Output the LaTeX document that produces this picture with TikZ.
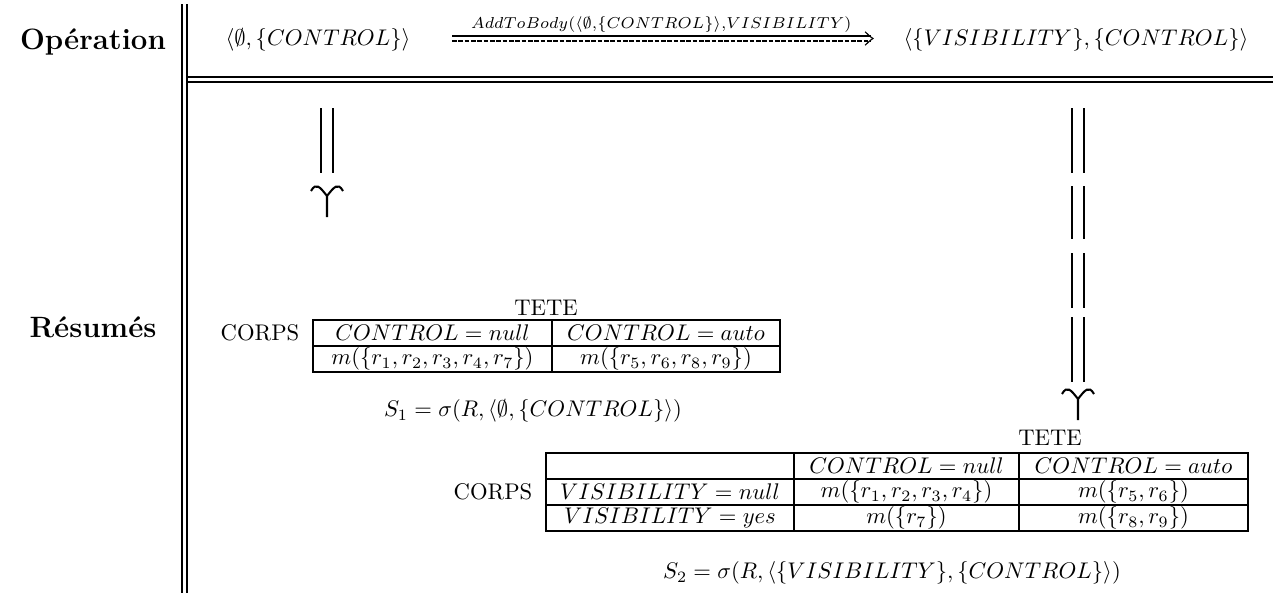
\documentclass[tikz,border=0pt]{standalone}
\usepackage{amsmath}
\usepackage{amssymb}
\usetikzlibrary{arrows}

\begin{document}
\begin{tikzpicture}[x=0.442pt,y=-0.442pt,line width=0.5pt,
  title node/.style={font=\fontsize{13}{15}\selectfont\bfseries},
  cell node/.style={inner sep=0pt},
  shaft/.style={line width=0.9pt},
  dbl head/.pic={\draw[line width=0.9pt] (-16,-26) .. controls (-11,-35) and (-7,-30) .. (0,-21) -- (0,0)
    (16,-26) .. controls (11,-35) and (7,-30) .. (0,-21);}]

  \useasboundingbox (0,0) rectangle (1273,596);

  \node[title node] (op) at (93,42) {Opération};
  \node[title node] (res) at (93,327) {Résumés};

  \draw (182,4) -- (182,593) (187,4) -- (187,593);
  \draw (187,77) -- (1273,77) (187,82) -- (1273,82);

  % operation
  \node (src) at (318,40) {$\langle\emptyset,\{CONTROL\}\rangle$};
  \node (dst) at (1076,40) {$\langle\{VISIBILITY\},\{CONTROL\}\rangle$};
  \coordinate (op start) at (452,38.5);
  \coordinate (op end) at (873,38.5);
  \draw ([yshift=1.1pt]op start) -- ([yshift=1.1pt,xshift=-1pt]op end)
    node[midway,above=0.5pt,inner sep=1pt] (op label) {$\scriptstyle AddToBody(\langle\emptyset,\{CONTROL\}\rangle,VISIBILITY)$};
  \draw[dash pattern=on 2pt off 0.8pt] ([yshift=-1.1pt]op start) -- ([yshift=-1.1pt,xshift=-1pt]op end);
  \draw ([shift={(-3.5pt,3pt)}]op end) .. controls ([shift={(-1pt,0.6pt)}]op end) .. (op end)
    .. controls ([shift={(-1pt,-0.6pt)}]op end) .. ([shift={(-3.5pt,-3pt)}]op end);

  % down arrows
  \coordinate (left top) at (327,108);
  \draw[shaft] ([xshift=-2.8pt]left top) -- ++(0,65) ([xshift=2.8pt]left top) -- ++(0,65);
  \pic at (327,217) {dbl head};

  \foreach \ya/\yb in {108/173,186/239,253/308,317/382} {
    \draw[shaft] (1071.7,\ya) -- (1071.7,\yb) (1084.3,\ya) -- (1084.3,\yb);
  }
  \pic at (1078,420) {dbl head};

  % summary S1
  \node (tete1) at (546,308) {TETE};
  \node (corps1) at (260,333) {CORPS};
  \draw (313,320) rectangle (780,372) (313,346) -- (780,346) (552,320) -- (552,372);
  \node[cell node] (c11) at (432.5,333) {$CONTROL = null$};
  \node[cell node] (c12) at (666,333) {$CONTROL = auto$};
  \node[cell node] (c21) at (432.5,359) {$m(\{r_1,r_2,r_3,r_4,r_7\})$};
  \node[cell node] (c22) at (666,359) {$m(\{r_5,r_6,r_8,r_9\})$};
  \node (s1) at (533,411) {$S_1 = \sigma(R,\langle\emptyset,\{CONTROL\}\rangle)$};

  % summary S2
  \node (tete2) at (1050,438) {TETE};
  \node (corps2) at (493,492) {CORPS};
  \draw (546,453) rectangle (1248,531);
  \draw (546,479) -- (1248,479) (546,505) -- (1248,505) (794,453) -- (794,531) (1019,453) -- (1019,531);
  \node[cell node] (d12) at (906.5,466) {$CONTROL = null$};
  \node[cell node] (d13) at (1133.5,466) {$CONTROL = auto$};
  \node[cell node] (d21) at (670,492) {$VISIBILITY = null$};
  \node[cell node] (d22) at (906.5,492) {$m(\{r_1,r_2,r_3,r_4\})$};
  \node[cell node] (d23) at (1133.5,492) {$m(\{r_5,r_6\})$};
  \node[cell node] (d31) at (670,518) {$VISIBILITY = yes$};
  \node[cell node] (d32) at (906.5,518) {$m(\{r_7\})$};
  \node[cell node] (d33) at (1133.5,518) {$m(\{r_8,r_9\})$};
  \node (s2) at (892,573) {$S_2 = \sigma(R,\langle\{VISIBILITY\},\{CONTROL\}\rangle)$};

\end{tikzpicture}
\end{document}
